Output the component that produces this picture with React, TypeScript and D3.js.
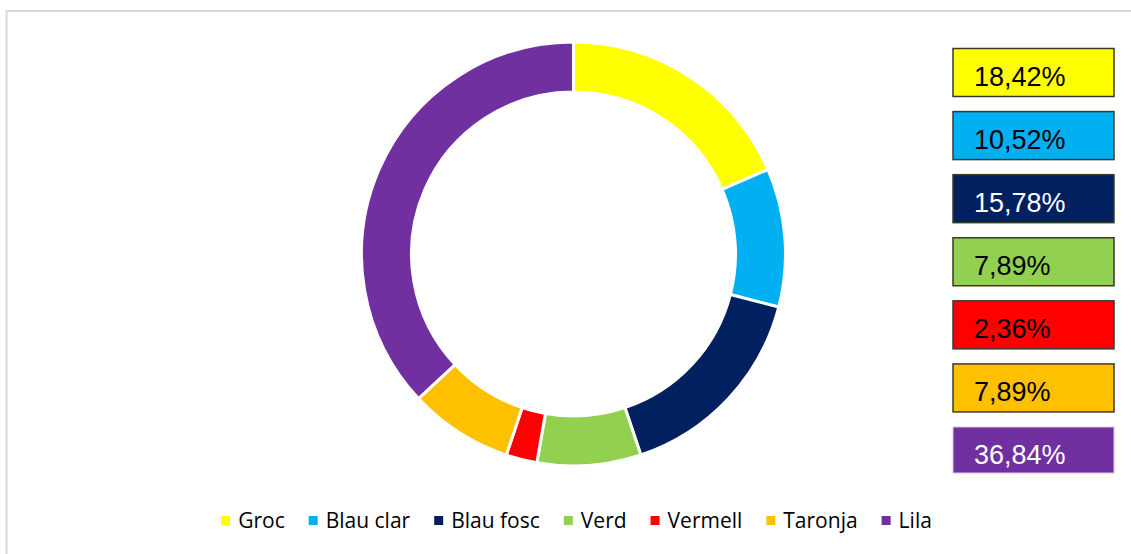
import React, { useRef, useEffect } from "react";
import * as d3 from "d3";

const categories = ["Groc", "Blau clar", "Blau fosc", "Verd", "Vermell", "Taronja", "Lila"];
const values = [18.42, 10.52, 15.78, 7.89, 2.36, 7.89, 36.84];
const valueLabels = ["18,42%", "10,52%", "15,78%", "7,89%", "2,36%", "7,89%", "36,84%"];
const colors = ["#FFFF00", "#00B0F0", "#002060", "#92D050", "#FF0000", "#FFC000", "#7030A0"];
const labelColors = ["#000", "#000", "#fff", "#000", "#000", "#000", "#fff"];

const W = 1131;
const H = 554;

const App = () => {
  const svgRef = useRef<SVGSVGElement | null>(null);

  useEffect(() => {
    const svg = d3.select(svgRef.current);
    svg.selectAll("*").remove();

    // chart frame (right/bottom edges fall outside the picture)
    svg.append("rect")
      .attr("x", 6.5).attr("y", 11)
      .attr("width", W + 20).attr("height", H + 20)
      .attr("fill", "#fff")
      .attr("stroke", "#d9d9d9")
      .attr("stroke-width", 2);

    const cx = 573.5, cy = 254;
    const outerR = 212, innerR = 162;

    const pie = d3.pie<number>().sort(null).value((d) => d);
    const arc = d3.arc<d3.PieArcDatum<number>>().innerRadius(innerR).outerRadius(outerR);

    svg.append("g")
      .attr("transform", `translate(${cx},${cy})`)
      .selectAll("path")
      .data(pie(values))
      .enter()
      .append("path")
      .attr("d", arc)
      .attr("fill", (d, i) => colors[i])
      .attr("stroke", "#fff")
      .attr("stroke-width", 3)
      .attr("stroke-linejoin", "miter");

    // value label boxes at the right
    const y = d3.scaleLinear().domain([0, values.length - 1]).range([48.5, 427]);
    const boxes = svg.append("g")
      .selectAll("g")
      .data(values)
      .enter()
      .append("g")
      .attr("transform", (d, i) => `translate(953,${y(i)})`);

    boxes.append("rect")
      .attr("width", 161)
      .attr("height", (d, i) => (i === values.length - 1 ? 46 : 48))
      .attr("fill", (d, i) => colors[i])
      .attr("stroke", (d, i) => (i === values.length - 1 ? "#d9c6ea" : "#3a3a2a"))
      .attr("stroke-width", (d, i) => (i === values.length - 1 ? 1 : 1.5));

    boxes.append("text")
      .attr("x", 21)
      .attr("y", 37)
      .attr("font-family", "'Liberation Sans', Arial, sans-serif")
      .attr("font-size", 27)
      .attr("fill", (d, i) => labelColors[i])
      .text((d, i) => valueLabels[i]);

    // bottom legend, laid out from measured text widths
    const legend = svg.append("g");
    const items = legend.selectAll("g")
      .data(categories)
      .enter()
      .append("g");
    items.append("rect")
      .attr("y", 516)
      .attr("width", 9)
      .attr("height", 9)
      .attr("fill", (d, i) => colors[i]);
    const texts = items.append("text")
      .attr("x", 17)
      .attr("y", 527.5)
      .attr("font-family", "'Open Sans', sans-serif")
      .attr("font-size", 21)
      .attr("fill", "#000")
      .text((d) => d);

    const widths: number[] = [];
    texts.each(function () {
      widths.push((this as SVGTextElement).getComputedTextLength());
    });
    const gap = 24;
    const itemW = widths.map((w) => 17 + w);
    const total = d3.sum(itemW) + gap * (itemW.length - 1);
    let x = 576.5 - total / 2;
    items.attr("transform", (d, i) => {
      const t = `translate(${x},0)`;
      x += itemW[i] + gap;
      return t;
    });

    return () => {};
  }, []);

  return (
    <svg
      ref={svgRef}
      width={W}
      height={H}
      style={{ position: "absolute", left: 0, top: 0, background: "#fff" }}
    />
  );
};

export default App;
